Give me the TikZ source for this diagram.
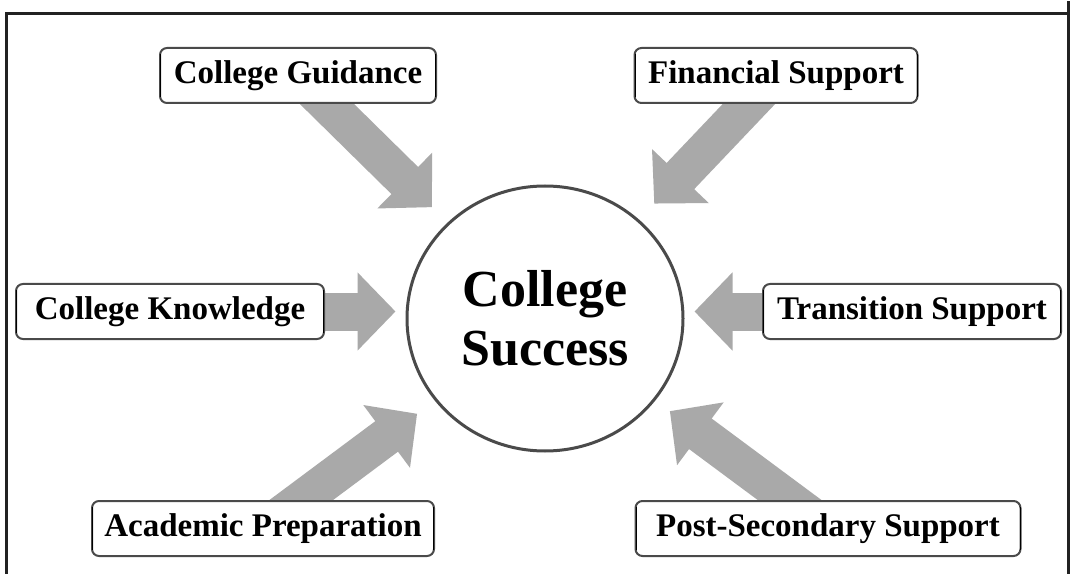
\documentclass[tikz,border=0pt]{standalone}
\usepackage{fontspec}
\setmainfont{Liberation Serif}
\usetikzlibrary{arrows.meta,backgrounds,shapes.geometric}
\definecolor{arrowgray}{HTML}{A9A9A9}
\definecolor{framegray}{HTML}{222222}
\definecolor{boxgray}{HTML}{4A4A4A}

\begin{document}
\begin{tikzpicture}[x=1pt, y=-1pt,
        tag/.style={draw=boxgray, line width=2pt, rounded corners=7pt, fill=white,
            minimum height=55pt, inner xsep=9pt, font=\fontsize{33}{36}\selectfont\bfseries,
            append after command={[boxgray, line width=4pt]
                ([shift={(1.5pt,-7pt)}]\tikzlastnode.north west) edge ([shift={(1.5pt,7pt)}]\tikzlastnode.south west)
                ([shift={(-1.5pt,-7pt)}]\tikzlastnode.north east) edge ([shift={(-1.5pt,7pt)}]\tikzlastnode.south east)}},
        feed/.style={draw=arrowgray, line width=38pt,
            -{Triangle[length=38pt, width=76pt]}, shorten >=22pt},
        frame/.style={draw=framegray, line width=3pt}]
        \node[tag, minimum width=276pt] (guidance) at (298, 74) {College Guidance};
        \node[tag, minimum width=283pt] (financial) at (776, 74) {Financial Support};
        \node[tag, minimum width=308pt] (knowledge) at (170, 310) {College Knowledge};
        \node[tag, minimum width=298pt] (transition) at (912, 310) {Transition Support};
        \node[tag, minimum width=342pt] (academic) at (263, 527) {Academic Preparation};
        \node[tag, minimum width=385pt] (postsec) at (828, 527) {Post-Secondary Support};

        \node[ellipse, draw=boxgray, line width=3pt, minimum width=276pt, minimum height=265pt,
            align=center, font=\fontsize{52}{59}\selectfont\bfseries] (success) at (545, 317) {College\\Success};

        \begin{scope}[on background layer]
            \fill[white] (0, 0) rectangle (1080, 572);
            \draw[feed] (guidance.center) -- (success);
            \draw[feed] (financial.center) -- (success);
            \draw[feed, shorten >=10pt] (knowledge.center) -- (knowledge -| success.west);
            \draw[feed, shorten >=10pt] (transition.center) -- (transition -| success.east);
            \draw[feed] (academic.center) -- (success);
            \draw[feed, shorten >=18pt] (postsec.center) -- (success);
        \end{scope}

        \draw[frame] (6, 572) -- (6, 12) -- (1068, 12);
        \draw[frame] (1068, 0) -- (1068, 572);
    \end{tikzpicture}
\end{document}
